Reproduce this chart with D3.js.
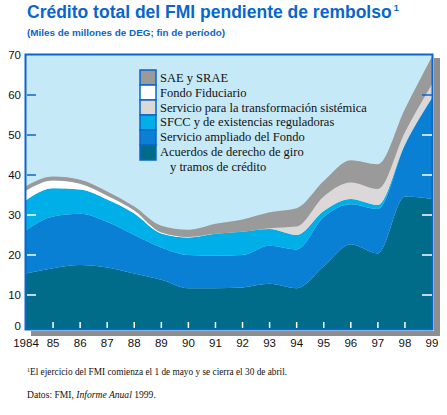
<!DOCTYPE html>
<html>
<head>
<meta charset="utf-8">
<script src="https://cdn.jsdelivr.net/npm/d3@7"></script>
<style>
  body { margin: 0; background: #fff; }
  svg { display: block; }
</style>
</head>
<body>
<div id="chart"></div>
<script>
const years = [1984, 1985, 1986, 1987, 1988, 1989, 1990, 1991, 1992, 1993, 1994, 1995, 1996, 1997, 1998, 1999];
const xTickLabels = ["1984", "85", "86", "87", "88", "89", "90", "91", "92", "93", "94", "95", "96", "97", "98", "99"];
const yTickValues = [0, 10, 20, 30, 40, 50, 60, 70];

// series, bottom to top (miles de millones de DEG)
const acuerdos   = [15.4, 16.7, 17.5, 16.9, 15.4, 13.8, 11.7, 11.7, 11.9, 12.8, 11.7, 17.2, 22.7, 20.4, 34.6, 34.0];
const ampliado   = [10.8, 12.9, 12.8, 11.4, 9.6, 8.1, 8.3, 8.1, 8.1, 9.5, 9.7, 12.3, 10.0, 11.1, 12.9, 25.2];
const sfcc       = [7.5, 7.1, 6.1, 5.6, 5.4, 3.5, 4.4, 5.5, 5.8, 4.2, 3.6, 1.5, 1.3, 1.0, 0.2, 0.1];
const transform  = [0, 0, 0, 0, 0, 0, 0, 0, 0, 0.2, 2.1, 3.6, 4.1, 4.0, 3.0, 3.4];
const fiduciario = [2.4, 1.9, 1.4, 0.9, 0.7, 0.2, 0.1, 0, 0, 0, 0, 0, 0, 0, 0, 0];
const saeSrae    = [1.1, 1.0, 1.0, 1.1, 1.0, 1.7, 1.8, 2.5, 3.1, 4.0, 4.6, 3.9, 5.6, 6.2, 5.8, 6.9];

const seriesKeys = ["acuerdos", "ampliado", "sfcc", "transform", "fiduciario", "sae"];
const seriesColors = ["#006c8a", "#0a80d4", "#00aee8", "#dcd8d8", "#ffffff", "#9a9a9a"];
// legend rows, top to bottom
const legendLabels = [
  ["SAE y SRAE"],
  ["Fondo Fiduciario"],
  ["Servicio para la transformación sistémica"],
  ["SFCC y de existencias reguladoras"],
  ["Servicio ampliado del Fondo"],
  ["Acuerdos de derecho de giro", "y tramos de crédito"]
];

const W = 447, H = 415;
const plot = { left: 26, right: 433, top: 55, bottom: 329 };
const frameBlue = "#0a66cc";

const svg = d3.select("#chart").append("svg")
  .attr("width", W)
  .attr("height", H);

// Title, with the superscript kept in the same text element
const title = svg.append("text")
  .attr("x", 27).attr("y", 18)
  .attr("font-family", "Liberation Sans Narrow, Arial Narrow, sans-serif")
  .attr("font-weight", "bold")
  .attr("font-size", 17.5)
  .attr("fill", frameBlue);
title.append("tspan")
  .text("Crédito total del FMI pendiente de rembolso");
title.append("tspan")
  .attr("font-size", 9)
  .attr("dx", 2)
  .attr("dy", -7)
  .text("1");

svg.append("text")
  .attr("x", 27).attr("y", 36)
  .attr("font-family", "Liberation Sans, Arial, sans-serif")
  .attr("font-weight", "bold")
  .attr("font-size", 9)
  .attr("fill", frameBlue)
  .attr("textLength", 198)
  .attr("lengthAdjust", "spacingAndGlyphs")
  .text("(Miles de millones de DEG; fin de período)");

// Scales
const x = d3.scaleLinear()
  .domain([1984, 1999])
  .range([plot.left, plot.right - 1]);

const y = d3.scaleLinear()
  .domain([0, 70])
  .range([335, plot.top]);

// Stack
const rows = years.map((yr, i) => ({
  year: yr,
  acuerdos: acuerdos[i],
  ampliado: ampliado[i],
  sfcc: sfcc[i],
  transform: transform[i],
  fiduciario: fiduciario[i],
  sae: saeSrae[i]
}));

const stacked = d3.stack().keys(seriesKeys)(rows);

// Shadow
svg.append("rect")
  .attr("x", plot.right + 1).attr("y", plot.top + 3)
  .attr("width", 6).attr("height", plot.bottom - plot.top + 4)
  .attr("fill", "#8e8e8e");
svg.append("rect")
  .attr("x", plot.left + 5).attr("y", plot.bottom + 2)
  .attr("width", plot.right - plot.left + 2).attr("height", 5)
  .attr("fill", "#8e8e8e");

// Plot background
svg.append("rect")
  .attr("x", plot.left).attr("y", plot.top)
  .attr("width", plot.right - plot.left).attr("height", plot.bottom - plot.top)
  .attr("fill", "#c6e9f8");

svg.append("defs").append("clipPath")
  .attr("id", "plotclip")
  .append("rect")
  .attr("x", plot.left).attr("y", plot.top)
  .attr("width", plot.right - plot.left).attr("height", plot.bottom - plot.top);

const area = d3.area()
  .curve(d3.curveMonotoneX)
  .x(d => x(d.data.year))
  .y0(d => y(d[0]))
  .y1(d => y(d[1]));

svg.append("g")
  .attr("clip-path", "url(#plotclip)")
  .selectAll("path")
  .data(stacked)
  .join("path")
  .attr("d", d => {
    // close the bottom layer down past the axis
    if (d.key === "acuerdos") {
      return d3.area().curve(d3.curveMonotoneX)
        .x(p => x(p.data.year)).y0(plot.bottom + 5).y1(p => y(p[1]))(d);
    }
    return area(d);
  })
  .attr("fill", (d, i) => seriesColors[i]);

// Frame
svg.append("rect")
  .attr("x", plot.left - 0.5).attr("y", plot.top - 0.5)
  .attr("width", plot.right - plot.left).attr("height", plot.bottom - plot.top + 1)
  .attr("fill", "none")
  .attr("stroke", frameBlue)
  .attr("stroke-width", 2);

// Y ticks: white over the coloured bands, blue over the background
const firstIdx = 0, lastIdx = years.length - 1;
const lowStack = i => acuerdos[i] + ampliado[i] + sfcc[i];
const yTicks = yTickValues.filter(v => v > 0 && v < 70);

svg.append("g").selectAll("line.lt")
  .data(yTicks)
  .join("line")
  .attr("x1", plot.left + 1).attr("x2", plot.left + 10)
  .attr("y1", d => y(d)).attr("y2", d => y(d))
  .attr("stroke", d => d < lowStack(firstIdx) ? "#ffffff" : frameBlue)
  .attr("stroke-width", 1.5);

svg.append("g").selectAll("line.rt")
  .data(yTicks)
  .join("line")
  .attr("x1", plot.right - 11).attr("x2", plot.right - 1)
  .attr("y1", d => y(d)).attr("y2", d => y(d))
  .attr("stroke", d => d < lowStack(lastIdx) ? "#ffffff" : frameBlue)
  .attr("stroke-width", 1.5);

// Y labels
svg.append("g").selectAll("text")
  .data(yTickValues)
  .join("text")
  .attr("x", 21)
  .attr("y", d => d === 0 ? plot.bottom - 3 : y(d))
  .attr("dy", "0.35em")
  .attr("text-anchor", "end")
  .attr("font-family", "Liberation Sans, Arial, sans-serif")
  .attr("font-size", 11.5)
  .attr("fill", "#111")
  .text(d => d);

// X ticks
svg.append("g").selectAll("line")
  .data(years.slice(1, -1))
  .join("line")
  .attr("x1", d => x(d)).attr("x2", d => x(d))
  .attr("y1", plot.bottom - 7).attr("y2", plot.bottom - 1)
  .attr("stroke", "#ffffff")
  .attr("stroke-width", 1.5);

svg.append("g").selectAll("text")
  .data(years)
  .join("text")
  .attr("x", d => x(d))
  .attr("y", 347)
  .attr("text-anchor", "middle")
  .attr("font-family", "Liberation Sans, Arial, sans-serif")
  .attr("font-size", 11.5)
  .attr("fill", "#111")
  .text((d, i) => xTickLabels[i]);

// Legend
const legendColors = seriesColors.slice().reverse();
const legend = svg.append("g");
legend.selectAll("rect")
  .data(legendColors)
  .join("rect")
  .attr("x", 140).attr("y", (d, i) => 70 + i * 15)
  .attr("width", 16).attr("height", 15)
  .attr("fill", d => d)
  .attr("stroke", frameBlue)
  .attr("stroke-width", 1.5);

legendLabels.forEach((lines, i) => {
  lines.forEach((line, j) => {
    legend.append("text")
      .attr("x", j === 0 ? 160 : 170)
      .attr("y", 82 + i * 14.8 + j * 15)
      .attr("font-family", "Liberation Serif, Times New Roman, serif")
      .attr("font-size", 12.5)
      .attr("fill", "#111")
      .text(line);
  });
});

// Notes
svg.append("text")
  .attr("x", 27).attr("y", 375)
  .attr("font-family", "Liberation Serif, Times New Roman, serif")
  .attr("font-size", 9.3)
  .attr("fill", "#111")
  .call(t => {
    t.append("tspan").attr("font-size", 6).attr("dy", -3).text("1");
    t.append("tspan").attr("dy", 3).text("El ejercicio del FMI comienza el 1 de mayo y se cierra el 30 de abril.");
  });

svg.append("text")
  .attr("x", 27).attr("y", 398)
  .attr("font-family", "Liberation Serif, Times New Roman, serif")
  .attr("font-size", 9.6)
  .attr("fill", "#111")
  .call(t => {
    t.append("tspan").text("Datos: FMI, ");
    t.append("tspan").attr("font-style", "italic").text("Informe Anual");
    t.append("tspan").text(" 1999.");
  });
</script>
</body>
</html>
